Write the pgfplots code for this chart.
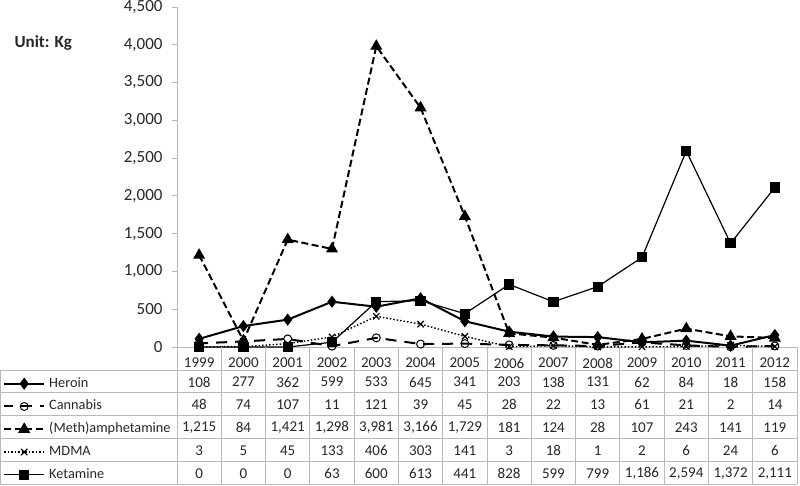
\documentclass[border=0pt]{standalone}
\usepackage{fontspec}
\setmainfont{Carlito}
\usepackage{pgfplots}
\usepackage{pgfplotstable}
\pgfplotsset{compat=1.18}

\newcommand\tablefont{\fontsize{15}{18}\selectfont}
\newcommand\keyfont{\fontsize{14.3}{17}\selectfont}
\newcommand\tickfont{\fontsize{17}{20}\selectfont}

% seizures in kg, by year
\pgfplotstableread{
year heroin cannabis meth mdma ketamine
1999 108 48 1215 3 0
2000 277 74 84 5 0
2001 362 107 1421 45 0
2002 599 11 1298 133 63
2003 533 121 3981 406 600
2004 645 39 3166 303 613
2005 341 45 1729 141 441
2006 203 28 181 3 828
2007 138 22 124 18 599
2008 131 13 28 1 799
2009 62 61 107 2 1186
2010 84 21 243 6 2594
2011 18 2 141 24 1372
2012 158 14 119 6 2111
}\seizures

\pgfplotsset{
  valrow/.style={forget plot, draw=none, mark=none, nodes near coords,
    point meta=explicit, nodes near coords align=center,
    every node near coord/.append style={anchor=center, font=\tablefont,
      text=black!85, yshift=#1}},
}

\begin{document}
\begin{tikzpicture}
\path[use as bounding box] (0pt,0pt) rectangle (800pt,-486pt);
\begin{axis}[
  at={(177pt,-347pt)}, anchor=south west,
  scale only axis, width=620pt, height=340pt,
  xmin=1998.5, xmax=2012.5, ymin=0, ymax=4500,
  clip=false,
  axis lines*=left,
  axis line style={draw=gray!55, line width=0.8pt},
  xtick={1999,...,2012},
  xticklabels={1999,2000,2001,2002,2003,2004,2005,2006,2007,2008,2009,2010,2011,2012},
  xtick style={draw=none},
  x tick label style={anchor=center, yshift=-11pt, font=\tablefont, text=black!85},
  ytick={0,500,...,4500},
  scaled y ticks=false,
  y tick label style={font=\tickfont, text=black!85, xshift=-6pt},
  ytick style={draw=gray!55, line width=0.8pt},
  tick align=outside, major tick length=5pt,
  /pgf/number format/assume math mode=true,
  /pgf/number format/1000 sep={,},
  legend style={at={(axis description cs:-0.2806,-0.0882)}, anchor=north west,
    draw=none, fill=none, inner sep=0pt, row sep=9.8pt, column sep=4pt,
    font=\keyfont, text=black!85,
    nodes={inner sep=0pt, text height=10pt, text depth=3pt}},
  legend cell align=left,
  legend image code/.code={\draw[mark repeat=2,mark phase=2]
    plot coordinates {(0pt,0pt) (20pt,0pt) (40pt,0pt)};},
]
\addplot[black, line width=2pt, mark=diamond*, mark size=4.5pt, mark options={solid}]
  table[x=year, y=heroin]{\seizures};
\addlegendentry{Heroin}
\addplot[black, line width=2pt, dash pattern=on 11pt off 8pt, dash phase=2pt, mark=o, mark size=4pt,
  mark options={solid, line width=1pt}]
  table[x=year, y=cannabis]{\seizures};
\addlegendentry{Cannabis}
\addplot[black, line width=2pt, dash pattern=on 7pt off 3.5pt, mark=triangle*, mark size=5pt,
  mark options={solid}]
  table[x=year, y=meth]{\seizures};
\addlegendentry{(Meth)amphetamine}
\addplot[black, line width=1.4pt, dash pattern=on 1.5pt off 2pt, mark=x, mark size=4.5pt,
  mark options={solid, line width=1.2pt}]
  table[x=year, y=mdma]{\seizures};
\addlegendentry{MDMA}
\addplot[black, line width=1.2pt, mark=square*, mark size=4.5pt, mark options={solid}]
  table[x=year, y=ketamine]{\seizures};
\addlegendentry{Ketamine}

% values of the data table under the plot
\addplot[valrow=-35pt] table[x=year, y expr=0, meta=heroin]{\seizures};
\addplot[valrow=-57.8pt] table[x=year, y expr=0, meta=cannabis]{\seizures};
\addplot[valrow=-80.6pt] table[x=year, y expr=0, meta=meth]{\seizures};
\addplot[valrow=-103.4pt] table[x=year, y expr=0, meta=mdma]{\seizures};
\addplot[valrow=-126.2pt] table[x=year, y expr=0, meta=ketamine]{\seizures};
\end{axis}

% grid of the data table
\begin{scope}[draw=gray!55, line width=0.8pt]
\foreach \k in {0,...,5}
  \draw (0pt,{-370pt-\k*22.8pt}) -- (797pt,{-370pt-\k*22.8pt});
\foreach \k in {0,...,14}
  \draw ({177pt+\k*620pt/14},-347pt) -- ({177pt+\k*620pt/14},-484pt);
\draw (0.4pt,-370pt) -- (0.4pt,-484pt);
\end{scope}

\node[anchor=west, font=\tickfont\bfseries, text=black!85] at (11pt,-43pt) {Unit: Kg};
\end{tikzpicture}
\end{document}
